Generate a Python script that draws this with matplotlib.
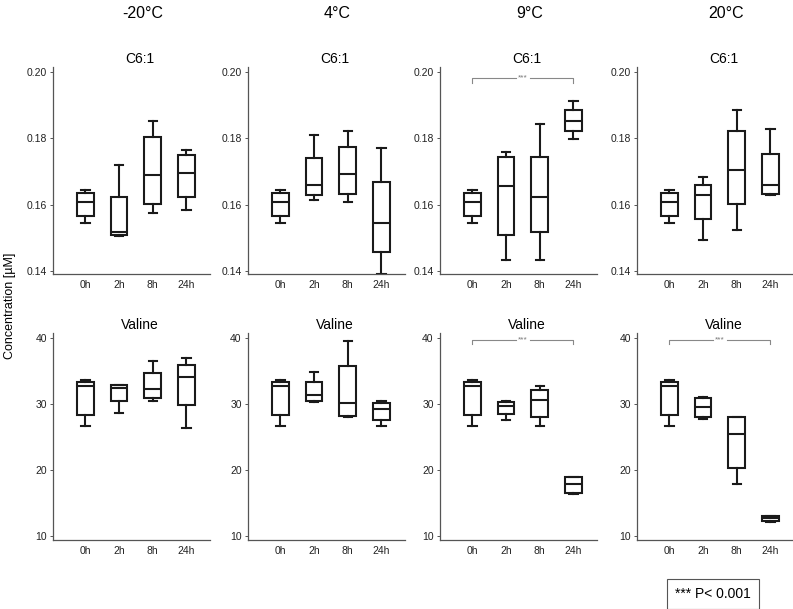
import matplotlib
matplotlib.use('Agg')
import matplotlib.pyplot as plt

plt.rcParams['font.family'] = ['Liberation Sans', 'DejaVu Sans']

temps = ['-20°C', '4°C', '9°C', '20°C']
times = ['0h', '2h', '8h', '24h']

# each entry: [whisker low, q1, median, q3, whisker high]
c61_m20 = [[0.1546, 0.1566, 0.1608, 0.1636, 0.1643],
           [0.1505, 0.1510, 0.1518, 0.1622, 0.1720],
           [0.1576, 0.1601, 0.1690, 0.1804, 0.1853],
           [0.1584, 0.1623, 0.1696, 0.1749, 0.1766]]
c61_4 = [[0.1546, 0.1566, 0.1608, 0.1636, 0.1643],
         [0.1614, 0.1629, 0.1659, 0.1741, 0.1810],
         [0.1608, 0.1633, 0.1693, 0.1775, 0.1823],
         [0.1390, 0.1458, 0.1546, 0.1669, 0.1771]]
c61_9 = [[0.1546, 0.1566, 0.1608, 0.1636, 0.1643],
         [0.1434, 0.1509, 0.1657, 0.1744, 0.1758],
         [0.1434, 0.1518, 0.1623, 0.1744, 0.1844],
         [0.1797, 0.1823, 0.1853, 0.1886, 0.1914]]
c61_20 = [[0.1546, 0.1566, 0.1608, 0.1636, 0.1643],
          [0.1494, 0.1558, 0.1629, 0.1658, 0.1683],
          [0.1524, 0.1602, 0.1705, 0.1823, 0.1886],
          [0.1630, 0.1633, 0.1660, 0.1754, 0.1827]]

val_m20 = [[26.6, 28.3, 32.7, 33.4, 33.6],
           [28.7, 30.4, 32.4, 32.8, 32.9],
           [30.5, 30.9, 32.2, 34.7, 36.5],
           [26.3, 29.9, 34.1, 35.9, 37.0]]
val_4 = [[26.6, 28.3, 32.7, 33.4, 33.6],
         [30.3, 30.5, 31.3, 33.4, 34.8],
         [28.0, 28.2, 30.2, 35.8, 39.6],
         [26.6, 27.5, 29.2, 30.2, 30.5]]
val_9 = [[26.6, 28.3, 32.7, 33.4, 33.6],
         [27.6, 28.5, 29.7, 30.3, 30.5],
         [26.6, 28.1, 30.6, 32.1, 32.7],
         [16.4, 16.5, 17.9, 19.0, 19.0]]
val_20 = [[26.6, 28.3, 32.7, 33.4, 33.6],
          [27.7, 28.0, 29.5, 30.9, 31.1],
          [17.9, 20.3, 25.5, 28.0, 28.1],
          [12.2, 12.3, 12.7, 13.0, 13.1]]

rows = [('C6:1', [c61_m20, c61_4, c61_9, c61_20], (0.1391, 0.2015), [0.14, 0.16, 0.18, 0.20], '%.2f'),
        ('Valine', [val_m20, val_4, val_9, val_20], (9.4, 40.75), [10, 20, 30, 40], '%d')]

# significance brackets: (row, col, y_line, y_tip)
sig = [(0, 2, 0.1982, 0.1967), (1, 2, 39.7, 39.1), (1, 3, 39.7, 39.1)]

fig = plt.figure(figsize=(7.93, 6.09), dpi=100)
W, H = 793, 609
lefts = [53, 248, 440, 637]
tops = [67, 333]
ax_w, ax_h = 157, 207

axes = {}
for r, (name, panels, ylim, yticks, fmt) in enumerate(rows):
    for c, stats_list in enumerate(panels):
        ax = fig.add_axes([lefts[c] / W, 1 - (tops[r] + ax_h) / H, ax_w / W, ax_h / H])
        axes[(r, c)] = ax
        stats = [dict(whislo=s[0], q1=s[1], med=s[2], q3=s[3], whishi=s[4], fliers=[])
                 for s in stats_list]
        ax.bxp(stats, positions=range(1, 5), widths=0.5, showfliers=False,
               patch_artist=True,
               boxprops=dict(facecolor='white', edgecolor='#1a1a1a', linewidth=1.5),
               medianprops=dict(color='#1a1a1a', linewidth=1.5),
               whiskerprops=dict(color='#1a1a1a', linewidth=1.5),
               capprops=dict(color='#1a1a1a', linewidth=1.5))
        ax.set_xlim(0.04, 4.7)
        ax.set_ylim(*ylim)
        ax.set_xticks(range(1, 5))
        ax.set_xticklabels(times)
        ax.set_yticks(yticks)
        ax.set_yticklabels([fmt % t for t in yticks])
        for s in ['top', 'right']:
            ax.spines[s].set_visible(False)
        for s in ['left', 'bottom']:
            ax.spines[s].set_color('#555555')
            ax.spines[s].set_linewidth(0.9)
        ax.tick_params(axis='both', labelsize=7.5, colors='#555555', labelcolor='#222222',
                       length=2.5, width=0.7, pad=2)
        ax.tick_params(axis='x', length=0, pad=4)
        ax.set_title(name, fontsize=10, x=0.55, pad=3)
        if r == 0:
            ax.text(0.57, 1.222, temps[c], transform=ax.transAxes, ha='center', va='bottom',
                    fontsize=11.5, family=['Liberation Sans Narrow', 'Liberation Sans'])

for r, c, yl, yt in sig:
    ax = axes[(r, c)]
    ax.plot([1, 1, 2.3], [yt, yl, yl], color='#888888', lw=0.8, clip_on=False)
    ax.plot([2.7, 4, 4], [yl, yl, yt], color='#888888', lw=0.8, clip_on=False)
    ax.text(2.5, yl, '***', ha='center', va='center', fontsize=6, color='#777777')

fig.text(10 / W, 1 - 306 / H, 'Concentration [µM]', rotation=90, ha='center', va='center',
         fontsize=9, family=['Liberation Sans Narrow', 'Liberation Sans'])

fig.text(713 / W, 1 - 594 / H, '*** P< 0.001', ha='center', va='center', fontsize=10,
         bbox=dict(boxstyle='square,pad=0.6', facecolor='white', edgecolor='#555555', linewidth=0.8))

fig.savefig('out.png', dpi=100)
